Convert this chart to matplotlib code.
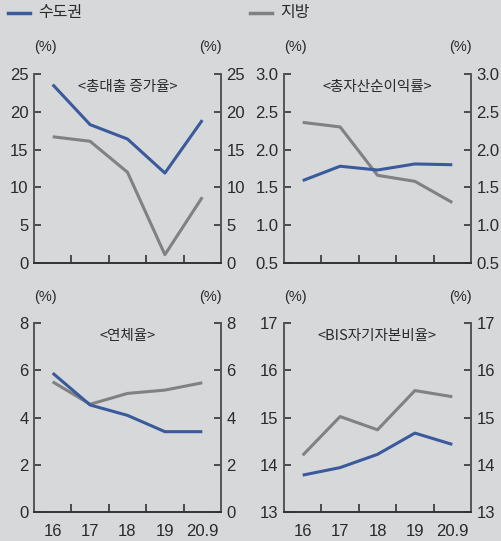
import matplotlib
matplotlib.use("Agg")
import matplotlib.pyplot as plt
from matplotlib.lines import Line2D

plt.rcParams['font.family'] = ['Liberation Sans Narrow', 'Liberation Sans', 'Noto Sans CJK KR', 'DejaVu Sans']

years = ["16", "17", "18", "19", "20.9"]
series_names = ["수도권", "지방"]

titles = ["<총대출 증가율>", "<총자산순이익률>", "<연체율>", "<BIS자기자본비율>"]

loan_growth_capital = [23.6, 18.3, 16.4, 11.9, 18.9]
loan_growth_local = [16.7, 16.1, 12.0, 1.1, 8.7]

roa_capital = [1.59, 1.78, 1.73, 1.81, 1.80]
roa_local = [2.36, 2.30, 1.66, 1.58, 1.30]

delinquency_capital = [5.88, 4.53, 4.09, 3.40, 3.40]
delinquency_local = [5.51, 4.56, 5.02, 5.16, 5.47]

bis_capital = [13.78, 13.94, 14.22, 14.67, 14.43]
bis_local = [14.20, 15.02, 14.74, 15.57, 15.44]

y_ticks = [
    [0, 5, 10, 15, 20, 25],
    [0.5, 1.0, 1.5, 2.0, 2.5, 3.0],
    [0, 2, 4, 6, 8],
    [13, 14, 15, 16, 17],
]
y_ticklabels = [
    ["0", "5", "10", "15", "20", "25"],
    ["0.5", "1.0", "1.5", "2.0", "2.5", "3.0"],
    ["0", "2", "4", "6", "8"],
    ["13", "14", "15", "16", "17"],
]

data = [
    (loan_growth_capital, loan_growth_local),
    (roa_capital, roa_local),
    (delinquency_capital, delinquency_local),
    (bis_capital, bis_local),
]

BG = "#d7d8da"
BLUE = "#3a5a9c"
GRAY = "#808182"
AX = "#333333"
TXT = "#2a2a2a"

W, H = 502, 541
fig = plt.figure(figsize=(W / 100, H / 100), dpi=100, facecolor=BG)

# panel rectangles in pixels: (left, top, right, bottom)
rects = [
    (34, 74, 221, 263),
    (284, 74, 471, 263),
    (34, 323, 221, 512),
    (284, 323, 471, 512),
]

xs = list(range(len(years)))
for i, (r, (cap, loc)) in enumerate(zip(rects, data)):
    l, t, rr, b = r
    ax = fig.add_axes([l / W, 1 - b / H, (rr - l) / W, (b - t) / H])
    ax.set_facecolor(BG)
    ax.plot(xs, loc, color=GRAY, lw=2.2, solid_capstyle='butt', zorder=2)
    ax.plot(xs, cap, color=BLUE, lw=2.2, solid_capstyle='butt', zorder=3)
    ax.set_xlim(-0.5, len(years) - 0.5)
    ax.set_ylim(y_ticks[i][0], y_ticks[i][-1])
    ax.spines['top'].set_visible(False)
    for s in ['left', 'right', 'bottom']:
        ax.spines[s].set_color(AX)
        ax.spines[s].set_linewidth(1.4)
    ax.spines['left'].set_color("#555555")
    ax.spines['right'].set_color("#555555")
    ax.set_yticks(y_ticks[i])
    ax.set_yticklabels(y_ticklabels[i])
    ax.tick_params(axis='y', which='both', direction='in', length=5, width=1.2, color=AX,
                   labelsize=12, labelcolor=TXT, left=True, right=True,
                   labelleft=True, labelright=True, pad=4)
    ax.set_xticks([0.5, 1.5, 2.5, 3.5])
    ax.set_xticklabels([])
    ax.tick_params(axis='x', which='major', direction='in', length=6, width=1.2, color=AX)
    if i >= 2:
        ax.set_xticks(xs, minor=True)
        ax.set_xticklabels(years, minor=True)
        ax.tick_params(axis='x', which='minor', length=0, labelsize=12, labelcolor=TXT, pad=9)
    ax.text(0.5, 0.93, titles[i], transform=ax.transAxes, ha='center', va='center',
            fontsize=10.5, color=TXT, family=['Noto Sans CJK KR', 'DejaVu Sans'])
    # (%) unit labels
    uy = (t - 26) if i >= 2 else (t - 27)
    fig.text((l + 11) / W, 1 - uy / H, "(%)", ha='center', va='center', fontsize=10.5, color=TXT)
    fig.text((rr - 11) / W, 1 - uy / H, "(%)", ha='center', va='center', fontsize=10.5, color=TXT)

# legend at top
fig.add_artist(Line2D([8 / W, 30 / W], [1 - 13 / H, 1 - 13 / H], color=BLUE, lw=2.5, transform=fig.transFigure))
fig.text(38 / W, 1 - 13 / H, series_names[0], ha='left', va='center', fontsize=11.5, color=TXT,
         family=['Noto Sans CJK KR', 'DejaVu Sans'])
fig.add_artist(Line2D([250 / W, 272 / W], [1 - 13 / H, 1 - 13 / H], color=GRAY, lw=2.5, transform=fig.transFigure))
fig.text(280 / W, 1 - 13 / H, series_names[1], ha='left', va='center', fontsize=11.5, color=TXT,
         family=['Noto Sans CJK KR', 'DejaVu Sans'])

fig.savefig("out.png", dpi=100, facecolor=BG)
